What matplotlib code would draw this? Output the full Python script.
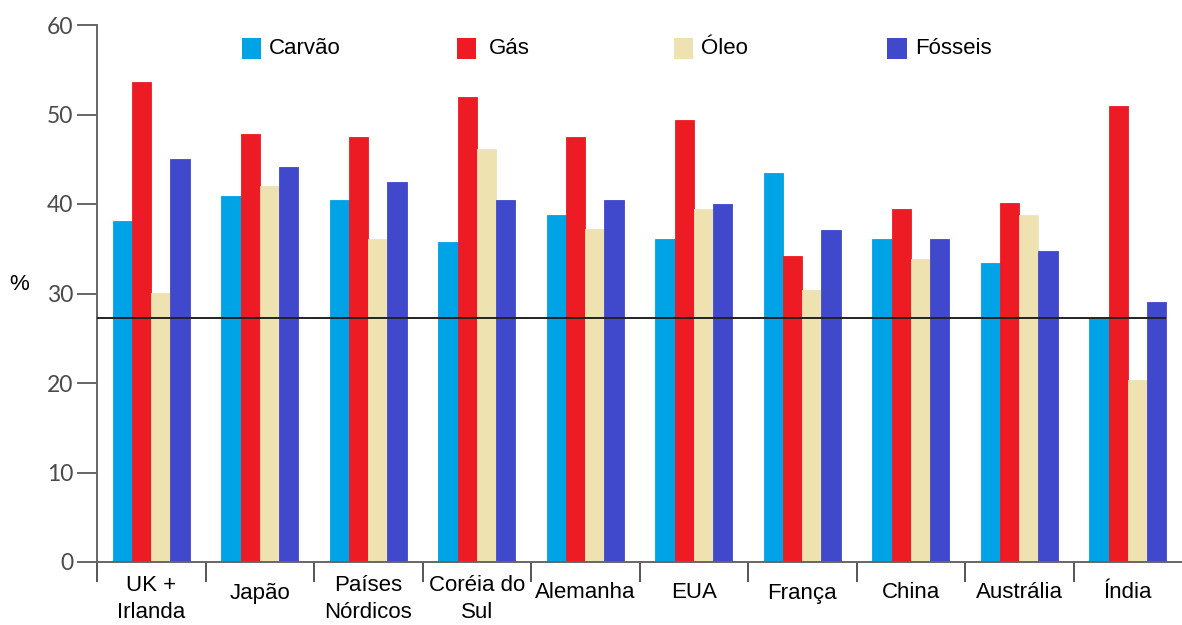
import matplotlib
matplotlib.use("Agg")
import matplotlib.pyplot as plt
import numpy as np
from matplotlib.patches import Rectangle

# ---- data -------------------------------------------------------------
categories = ["UK +\nIrlanda", "Japão", "Países\nNórdicos", "Coréia do\nSul",
              "Alemanha", "EUA", "França", "China", "Austrália", "Índia"]
series_names = ["Carvão", "Gás", "Óleo", "Fósseis"]
carvao = [38.1, 40.9, 40.4, 35.7, 38.8, 36.1, 43.5, 36.1, 33.4, 27.3]
gas = [53.6, 47.8, 47.5, 51.9, 47.5, 49.4, 34.2, 39.4, 40.1, 50.9]
oleo = [30.1, 42.0, 36.1, 46.1, 37.2, 39.4, 30.4, 33.9, 38.8, 20.3]
fosseis = [45.0, 44.1, 42.5, 40.4, 40.4, 40.0, 37.1, 36.1, 34.8, 29.0]
reference_level = 27.3
y_ticks = [0, 10, 20, 30, 40, 50, 60]

colors = ["#00A3E6", "#ED1C24", "#EEE3B0", "#4048CB"]
label_font = ["Liberation Sans", "DejaVu Sans"]
label_size = 16

W, H = 1182, 625
fig = plt.figure(figsize=(W / 100, H / 100), dpi=100)
ax = fig.add_axes([97 / W, 1 - 562 / H, (W - 97) / W, (562 - 25) / H])

x = np.arange(len(categories))
bw = 0.177
values = [carvao, gas, oleo, fosseis]
for k, (vals, col) in enumerate(zip(values, colors)):
    ax.bar(x + (k - 1.5) * bw, vals, width=bw, color=col,
           edgecolor=col, linewidth=0.6, zorder=2)

# horizontal reference line from the axis to the last bar
x_end = x[-1] + 2 * bw
ax.plot([-0.5, x_end], [reference_level] * 2, color="#222222", lw=1.4,
        zorder=3, solid_capstyle="butt")

ax.set_xlim(-0.5, len(categories) - 0.5)
ax.set_ylim(0, 60)

for side in ("top", "right"):
    ax.spines[side].set_visible(False)
for side in ("left", "bottom"):
    ax.spines[side].set_color("#666666")
    ax.spines[side].set_linewidth(1.4)

ax.set_yticks(y_ticks)
ax.set_yticklabels([str(v) for v in y_ticks], family="Lato", fontsize=16.5,
                   color="#4a4a4a")
ax.tick_params(axis="y", length=14.4, width=1.4, color="#666666", pad=2.5)

# category boundaries as ticks below the axis; labels drawn separately
ax.set_xticks(np.arange(-0.5, len(categories) - 0.5, 1.0))
ax.set_xticklabels([])
ax.tick_params(axis="x", length=14.5, width=1.4, color="#555555")

trans = ax.get_xaxis_transform()
axes_h = 562 - 25
for i, lab in enumerate(categories):
    ypx = 599 if "\n" in lab else 593
    ax.text(i, -(ypx - 562) / axes_h, lab, transform=trans, ha="center",
            va="center", multialignment="center", family=label_font,
            fontsize=label_size, color="black", linespacing=1.42)

# "%" axis label
fig.text(19 / W, 1 - 284 / H, "%", ha="center", va="center",
         family=label_font, fontsize=label_size, color="black")

# legend: colour squares with names
legend_squares = [241.5, 457, 673.5, 887]
legend_texts = [269, 489, 701, 915]
for name, col, sx, tx in zip(series_names, colors, legend_squares, legend_texts):
    fig.add_artist(Rectangle((sx / W, 1 - 58.5 / H), 19.5 / W, 20 / H,
                             transform=fig.transFigure, facecolor=col,
                             edgecolor="none"))
    fig.text(tx / W, 1 - 48.5 / H, name, ha="left", va="center",
             family=label_font, fontsize=label_size, color="black")

fig.savefig("out.png", dpi=100)
